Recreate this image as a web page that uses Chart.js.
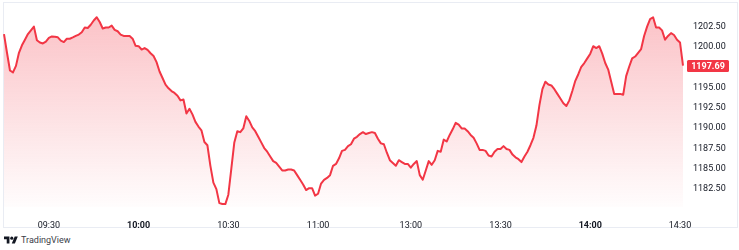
<!DOCTYPE html>
<html>
<head>
<meta charset="utf-8">
<script src="https://cdn.jsdelivr.net/npm/chart.js@4.4.1/dist/chart.umd.min.js"></script>
<style>
  html, body { margin: 0; padding: 0; background: #fff; }
  body { width: 739px; height: 250px; position: relative; overflow: hidden; font-family: Roboto, sans-serif; }
  #frame { position: absolute; left: 3px; top: 2px; width: 733px; height: 224px; border: 1px solid #e9ecf3; }
  #chartjs { position: absolute; left: 0; top: 0; }
  #brand { position: absolute; left: 4px; top: 234px; height: 12px; display: flex; align-items: center; color: #3b3e48; font-size: 9px; }
  #brand svg { margin-right: 3px; }
</style>
</head>
<body>
<div id="frame"></div>
<canvas id="chartjs" width="739" height="230"></canvas>
<div id="brand">
  <svg width="14" height="11" viewBox="0 0 36 28"><path fill="#131722" d="M14 22H7V11H0V4h14v18zM28 22h-8l7.5-18h8L28 22z"/><circle fill="#131722" cx="20" cy="8" r="4"/></svg>
  <span>TradingView</span>
</div>
<script>
// sessions, one point per minute
const morningSession = ['09:15', '11:30']
const afternoonSession = ['13:00', '14:31']

// morning prices 09:15 .. 11:30
const morningPrices = [
  1201.58, 1199.28, 1197.10, 1196.87, 1197.67, 1199.28, 1200.20, 1200.89, 1201.58, 1202.04,
  1202.50, 1200.83, 1200.55, 1200.43, 1200.66, 1201.12, 1201.29, 1201.24, 1201.18, 1200.78,
  1200.60, 1201.01, 1201.01, 1201.17, 1201.35, 1201.52, 1201.81, 1202.39, 1202.33, 1202.73,
  1203.25, 1203.65, 1203.07, 1202.27, 1202.39, 1202.39, 1202.62, 1202.10, 1201.93, 1201.52,
  1201.35, 1201.35, 1201.35, 1201.01, 1200.14, 1200.09, 1199.68, 1199.86, 1199.63, 1199.22,
  1198.88, 1198.13, 1196.98, 1196.18, 1195.37, 1194.91, 1194.57, 1194.34, 1193.99, 1193.42,
  1193.53, 1191.81, 1192.39, 1191.70, 1190.78, 1190.20, 1189.74, 1188.30, 1187.90, 1185.37,
  1183.30, 1182.50, 1180.78, 1180.66, 1180.66, 1181.81, 1185.03, 1188.25, 1189.63, 1189.51,
  1189.97, 1191.47, 1190.89, 1190.09, 1189.63, 1188.94, 1188.25, 1187.56, 1187.10, 1186.52,
  1185.95, 1185.72, 1185.26, 1184.80, 1184.80, 1184.91, 1184.91, 1184.80, 1184.22, 1183.65,
  1183.07, 1182.39, 1182.61, 1182.61, 1181.70, 1181.93, 1183.19, 1183.65, 1183.88, 1184.22,
  1185.37, 1185.60, 1186.29, 1187.21, 1187.33, 1187.79, 1188.02, 1188.71, 1188.94, 1189.28,
  1189.51, 1189.28, 1189.40, 1189.51, 1189.40, 1188.71, 1188.13, 1188.02, 1186.98, 1186.06,
  1185.72, 1185.37, 1186.06, 1185.83, 1185.60, 1185.60
]

// afternoon prices 13:00 .. 14:31
const afternoonPrices = [
  1185.14, 1185.60, 1185.95, 1184.22, 1183.65, 1184.80, 1185.95, 1185.49, 1186.06, 1187.21,
  1187.10, 1188.59, 1188.36, 1189.17, 1189.86, 1190.66, 1190.43, 1189.97, 1189.97, 1189.63,
  1189.17, 1188.82, 1188.13, 1187.33, 1187.33, 1187.21, 1186.64, 1186.52, 1187.10, 1187.44,
  1187.44, 1187.79, 1187.44, 1187.33, 1186.75, 1186.41, 1186.18, 1185.83, 1186.52, 1187.10,
  1187.90, 1188.82, 1190.32, 1192.84, 1194.80, 1195.72, 1195.37, 1195.26, 1194.80, 1194.22,
  1193.65, 1193.07, 1192.73, 1193.42, 1194.57, 1195.83, 1196.64, 1197.56, 1198.02, 1198.59,
  1199.17, 1200.09, 1199.86, 1200.09, 1199.17, 1198.02, 1197.21, 1195.72, 1194.22, 1194.22,
  1194.22, 1194.11, 1196.41, 1197.56, 1198.59, 1198.82, 1199.28, 1199.74, 1201.35, 1202.50,
  1203.42, 1203.65, 1202.39, 1202.39, 1202.04, 1200.89, 1201.35, 1201.70, 1201.47, 1200.89,
  1200.55, 1197.69
]

const timeTicks = ['09:30', '10:00', '10:30', '11:00', '13:00', '13:30', '14:00', '14:30']
const boldTimeTicks = ['10:00', '14:00']
const priceTicks = [1182.5, 1185, 1187.5, 1190, 1192.5, 1195, 1197.5, 1200, 1202.5]

const RED = '#f23645'

function minuteLabels(session) {
  let [h, m] = session[0].split(':').map(Number)
  const [eh, em] = session[1].split(':').map(Number)
  const out = []
  while (h * 60 + m <= eh * 60 + em) {
    out.push(String(h).padStart(2, '0') + ':' + String(m).padStart(2, '0'))
    m++
    if (m === 60) { m = 0; h++ }
  }
  return out
}

const labels = minuteLabels(morningSession).concat(minuteLabels(afternoonSession))
const prices = morningPrices.concat(afternoonPrices)
const lastPrice = prices[prices.length - 1]

const lastPriceLabel = {
  id: 'lastPriceLabel',
  afterDraw(chart) {
    const ctx = chart.ctx
    const y = chart.scales.y.getPixelForValue(lastPrice)
    ctx.save()
    ctx.fillStyle = RED
    ctx.beginPath()
    ctx.roundRect(687, Math.round(y) - 6, 42, 12, 1.5)
    ctx.fill()
    ctx.fillStyle = '#fff'
    ctx.font = 'bold 9px Roboto'
    ctx.textAlign = 'center'
    ctx.textBaseline = 'middle'
    ctx.fillText(lastPrice.toFixed(2), 708, Math.round(y) + 0.5)
    ctx.restore()
  }
}

let ctx = document.getElementById('chartjs').getContext('2d')
new Chart(ctx, {
  type: 'line',
  data: {
    labels,
    datasets: [{
      data: prices,
      borderColor: RED,
      borderWidth: 2,
      borderJoinStyle: 'round',
      pointRadius: 0,
      tension: 0,
      fill: 'start',
      backgroundColor: function(context) {
        const { ctx, chartArea } = context.chart
        if (!chartArea) return 'rgba(242,54,69,0.15)'
        const g = ctx.createLinearGradient(0, chartArea.top, 0, chartArea.bottom)
        g.addColorStop(0, 'rgba(242,54,69,0.30)')
        g.addColorStop(1, 'rgba(242,54,69,0.01)')
        return g
      }
    }]
  },
  options: {
    responsive: false,
    animation: false,
    layout: { padding: { left: 4, top: 2, right: 0, bottom: 0 } },
    plugins: { legend: { display: false }, tooltip: { enabled: false } },
    scales: {
      x: {
        grid: { display: false },
        border: { display: false },
        afterBuildTicks(scale) {
          scale.ticks = timeTicks.map(t => ({ value: labels.indexOf(t) }))
        },
        afterFit(scale) { scale.height = 23 },
        ticks: {
          autoSkip: false,
          maxRotation: 0,
          padding: 5,
          color: '#131722',
          font: function(c) {
            const isBold = c.tick && boldTimeTicks.includes(labels[c.tick.value])
            return { family: 'Roboto', size: 9, weight: isBold ? 'bold' : 'normal' }
          }
        }
      },
      y: {
        position: 'right',
        min: 1180.3,
        max: 1203.88,
        grid: { display: false, drawTicks: false },
        border: { display: false },
        afterBuildTicks(scale) {
          // the last price tag covers ticks next to it
          scale.ticks = priceTicks.filter(v => Math.abs(v - lastPrice) > 1.3).map(v => ({ value: v }))
        },
        afterFit(scale) { scale.width = 56 },
        ticks: {
          padding: 10,
          color: '#131722',
          font: { family: 'Roboto', size: 9 },
          callback: v => v.toFixed(2)
        }
      }
    }
  },
  plugins: [lastPriceLabel]
})
</script>
</body>
</html>
